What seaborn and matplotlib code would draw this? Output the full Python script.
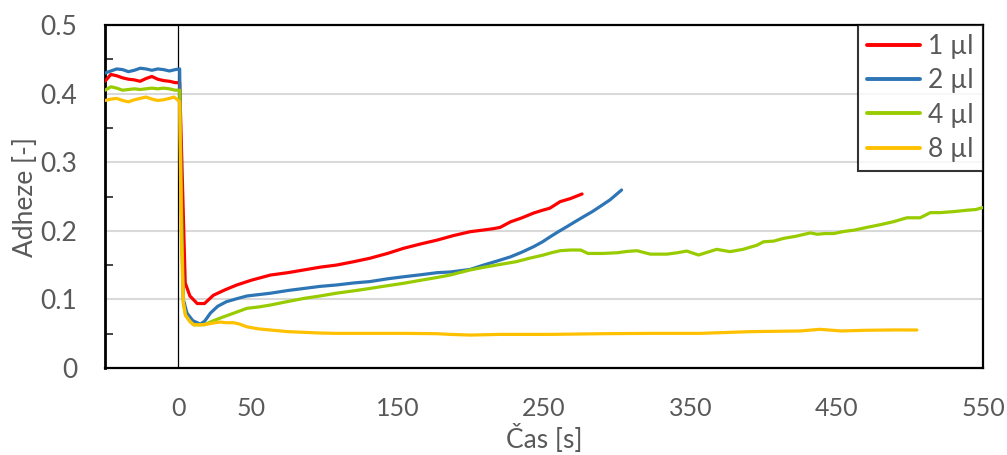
import numpy as np
import pandas as pd
import matplotlib
matplotlib.use("Agg")
import matplotlib.pyplot as plt
import seaborn as sns

# ---- data ----
labels = ["1 µl", "2 µl", "4 µl", "8 µl"]

red_x = [-50, -46, -42, -38, -34, -30, -26, -22, -18, -14, -10, -6, -2, 1, 4.8, 8, 13, 18, 24, 32, 40, 50, 63, 75, 86,
         97, 108, 120, 131, 143, 154, 166, 177, 188, 199.5, 208, 215, 220, 227, 235, 243, 249, 254, 261, 268, 276]
red_y = [0.418, 0.428, 0.426, 0.423, 0.421, 0.420, 0.418, 0.422, 0.425, 0.421, 0.419, 0.418, 0.416, 0.416, 0.124,
         0.105, 0.094, 0.094, 0.106, 0.114, 0.121, 0.128, 0.1355, 0.139, 0.143, 0.147, 0.150, 0.155, 0.160, 0.167,
         0.1745, 0.181, 0.1865, 0.193, 0.1987, 0.201, 0.203, 0.205, 0.213, 0.219, 0.226, 0.230, 0.233, 0.2425, 0.247,
         0.2537]

blue_x = [-50, -46, -42, -38, -34, -30, -26, -22, -18, -14, -10, -6, -2, 1, 2, 3.5, 6, 10, 15, 18, 22, 27, 33, 40, 47,
          55, 63, 75, 86, 97, 108, 120, 131, 143, 154, 166, 177, 186, 199.5, 208.6, 218, 227, 235, 243, 249, 254, 260,
          265.6, 271, 277, 283, 288, 295, 303]
blue_y = [0.430, 0.433, 0.436, 0.435, 0.432, 0.434, 0.437, 0.436, 0.434, 0.436, 0.435, 0.433, 0.435, 0.436, 0.25,
          0.10, 0.08, 0.069, 0.064, 0.068, 0.08, 0.09, 0.0967, 0.101, 0.105, 0.107, 0.109, 0.113, 0.116, 0.119, 0.121,
          0.124, 0.126, 0.130, 0.133, 0.136, 0.139, 0.140, 0.1437, 0.150, 0.156, 0.162, 0.169, 0.177, 0.184, 0.191,
          0.199, 0.206, 0.213, 0.2206, 0.228, 0.235, 0.245, 0.2595]

green_x = [-50, -46, -42, -38, -34, -30, -26, -22, -18, -14, -10, -6, -2, 1, 2.5, 3.5, 5, 8, 10.5, 14, 18, 23, 28.7, 38,
           47, 55, 63, 75, 86, 97, 108, 120, 131, 143, 154, 166, 177, 186, 199.5, 208.6, 220, 231, 240, 249.6, 255, 261,
           268, 275, 280, 290, 300, 307, 313.5, 322.6, 334, 341, 347.6, 351, 355.6, 362, 368, 377, 386, 395.5, 400, 407,
           413.7, 422, 432, 436.5, 442, 448, 454.7, 462, 470.6, 480, 488.8, 498, 507, 514, 520.7, 530, 539, 545, 550]
green_y = [0.405, 0.410, 0.408, 0.405, 0.406, 0.407, 0.406, 0.407, 0.408, 0.407, 0.408, 0.407, 0.405, 0.405, 0.2,
           0.095, 0.077, 0.068, 0.063, 0.063, 0.063, 0.068, 0.0728, 0.080, 0.087, 0.089, 0.0918, 0.097, 0.1015, 0.105,
           0.109, 0.1125, 0.116, 0.120, 0.1235, 0.128, 0.132, 0.1356, 0.143, 0.1467, 0.151, 0.155, 0.160, 0.1647, 0.168,
           0.171, 0.172, 0.172, 0.167, 0.167, 0.168, 0.170, 0.171, 0.166, 0.166, 0.168, 0.1705, 0.168, 0.1647, 0.169,
           0.173, 0.1696, 0.173, 0.179, 0.184, 0.185, 0.189, 0.192, 0.197, 0.195, 0.196, 0.196, 0.199, 0.201, 0.205,
           0.209, 0.2133, 0.219, 0.219, 0.2265, 0.2265, 0.228, 0.230, 0.231, 0.234]

yellow_x = [-50, -46, -42, -38, -34, -30, -26, -22, -18, -14, -10, -6, -3, -1, 1, 2, 3.5, 5, 8, 10.5, 15, 20, 25, 28.7,
            33, 38, 42, 47, 55, 63, 75, 86, 97, 108, 131, 154, 177, 186, 199.5, 220, 254, 290, 322.6, 356.7, 391, 425,
            438.7, 453, 470, 490, 504.8]
yellow_y = [0.390, 0.392, 0.393, 0.390, 0.388, 0.391, 0.393, 0.395, 0.392, 0.390, 0.391, 0.393, 0.395, 0.392, 0.388,
            0.2, 0.095, 0.077, 0.068, 0.063, 0.063, 0.064, 0.066, 0.067, 0.066, 0.066, 0.064, 0.060, 0.057, 0.0554,
            0.053, 0.052, 0.051, 0.0505, 0.0505, 0.0505, 0.050, 0.049, 0.048, 0.049, 0.049, 0.050, 0.0505, 0.0505,
            0.053, 0.054, 0.0564, 0.054, 0.055, 0.0555, 0.0554]

x_ticks = [0, 50, 150, 250, 350, 450, 550]
y_ticks = [0, 0.1, 0.2, 0.3, 0.4, 0.5]
colors = ["#FF0000", "#2E75B6", "#99CC00", "#FFC000"]

frames = []
for lab, xs, ys in zip(labels, [red_x, blue_x, green_x, yellow_x], [red_y, blue_y, green_y, yellow_y]):
    frames.append(pd.DataFrame({"t": xs, "a": ys, "s": lab}))
df = pd.concat(frames, ignore_index=True)

sns.set_theme(style="white")
plt.rcParams["font.family"] = ["Lato", "DejaVu Sans"]
txt = "#595959"

fig = plt.figure(figsize=(10.07, 4.55), dpi=100)
ax = fig.add_axes([0.1043, 0.1912, 0.8719, 0.7538])

for y in [0.1, 0.2, 0.3, 0.4]:
    ax.axhline(y, color="#D9D9D9", lw=1.5, zorder=0)
ax.axvline(0, color="black", lw=0.9, zorder=1)

sns.lineplot(data=df, x="t", y="a", hue="s", palette=colors, sort=False, estimator=None,
             lw=2.3, ax=ax, legend=False, zorder=3)

ax.set_xlim(-50, 550)
ax.set_ylim(0, 0.5)
ax.set_xticks(x_ticks)
ax.set_xticklabels([str(v) for v in x_ticks])
ax.set_yticks(y_ticks)
ax.set_yticklabels(["0", "0.1", "0.2", "0.3", "0.4", "0.5"])
ax.set_yticks(np.arange(0.05, 0.5, 0.1), minor=True)
ax.tick_params(axis="y", which="major", length=6, direction="in", width=1.2, pad=20, labelsize=19, labelcolor=txt, color="black")
ax.tick_params(axis="y", which="minor", length=6, direction="in", width=1.2, left=True)
ax.tick_params(axis="x", which="major", length=0, pad=21, labelsize=18, labelcolor=txt)

for side in ["left", "right", "top", "bottom"]:
    ax.spines[side].set_color("black")
    ax.spines[side].set_linewidth(1.6)
ax.spines["left"].set_linewidth(2.0)

ax.set_xlabel("Čas [s]", fontsize=19, color=txt, labelpad=3)
ax.set_ylabel("Adheze [-]", fontsize=19, color=txt, labelpad=2)

handles = [plt.Line2D([], [], color=c, lw=2.8) for c in colors]
leg = ax.legend(handles, labels, loc="upper right", bbox_to_anchor=(1.0, 1.0), borderaxespad=0,
                fontsize=19, frameon=True, fancybox=False, edgecolor="black", handlelength=2.0,
                handletextpad=0.3, labelspacing=0.35, borderpad=0.35)
leg.get_frame().set_linewidth(1.5)
for t in leg.get_texts():
    t.set_color(txt)

fig.savefig("out.png", dpi=100)
